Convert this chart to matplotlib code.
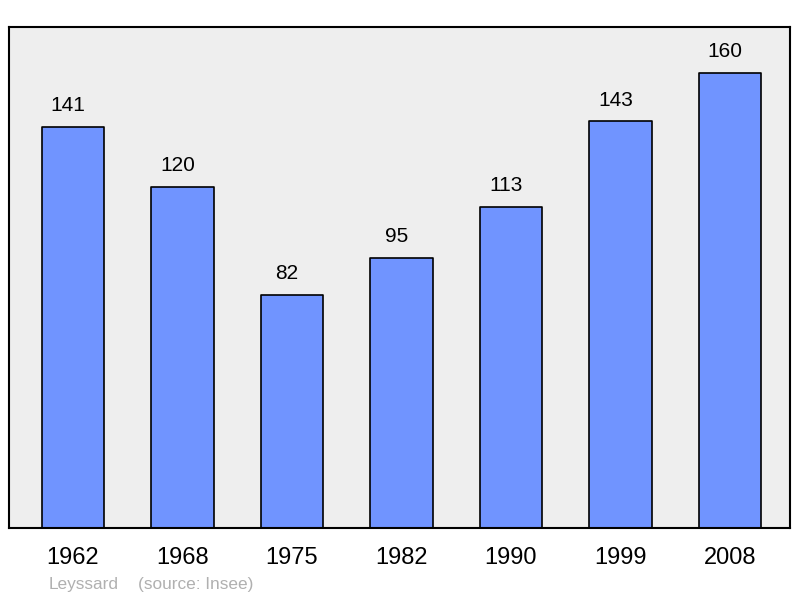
import numpy as np
import matplotlib.pyplot as plt

years = ['1962', '1968', '1975', '1982', '1990', '1999', '2008']
population = [141, 120, 82, 95, 113, 143, 160]

plt.rcParams['font.family'] = ['Liberation Sans', 'DejaVu Sans']

fig = plt.figure(figsize=(8, 5.98), dpi=100)
ax = fig.add_axes([9/800, 70/598, 781/800, 501/598])
ax.set_facecolor('#eeeeee')

x = np.arange(len(years))
bars = ax.bar(x, population, width=0.57, color='#7094ff', edgecolor='black',
              linewidth=1.2, joinstyle='round', zorder=2)

for xi, v in zip(x, population):
    ax.annotate(str(v), (xi, v), xytext=(-3.5, 8.5), textcoords='offset points',
                ha='center', va='bottom', fontsize=15, color='black')

ax.set_xlim(-0.585, 6.55)
ax.set_ylim(0, 176.2)
ax.set_yticks([])
ax.set_xticks(x)
ax.set_xticklabels(years, fontsize=17)
ax.tick_params(axis='x', length=0, pad=13.5)
for s in ax.spines.values():
    s.set_linewidth(1.5)
    s.set_color('black')

fig.text(49/800, 1 - 584/598, 'Leyssard', fontsize=12.4, color='#b0b0b0', va='center')
fig.text(138/800, 1 - 584/598, '(source: Insee)', fontsize=12.4, color='#b0b0b0', va='center')

fig.savefig('out.png', dpi=100)
